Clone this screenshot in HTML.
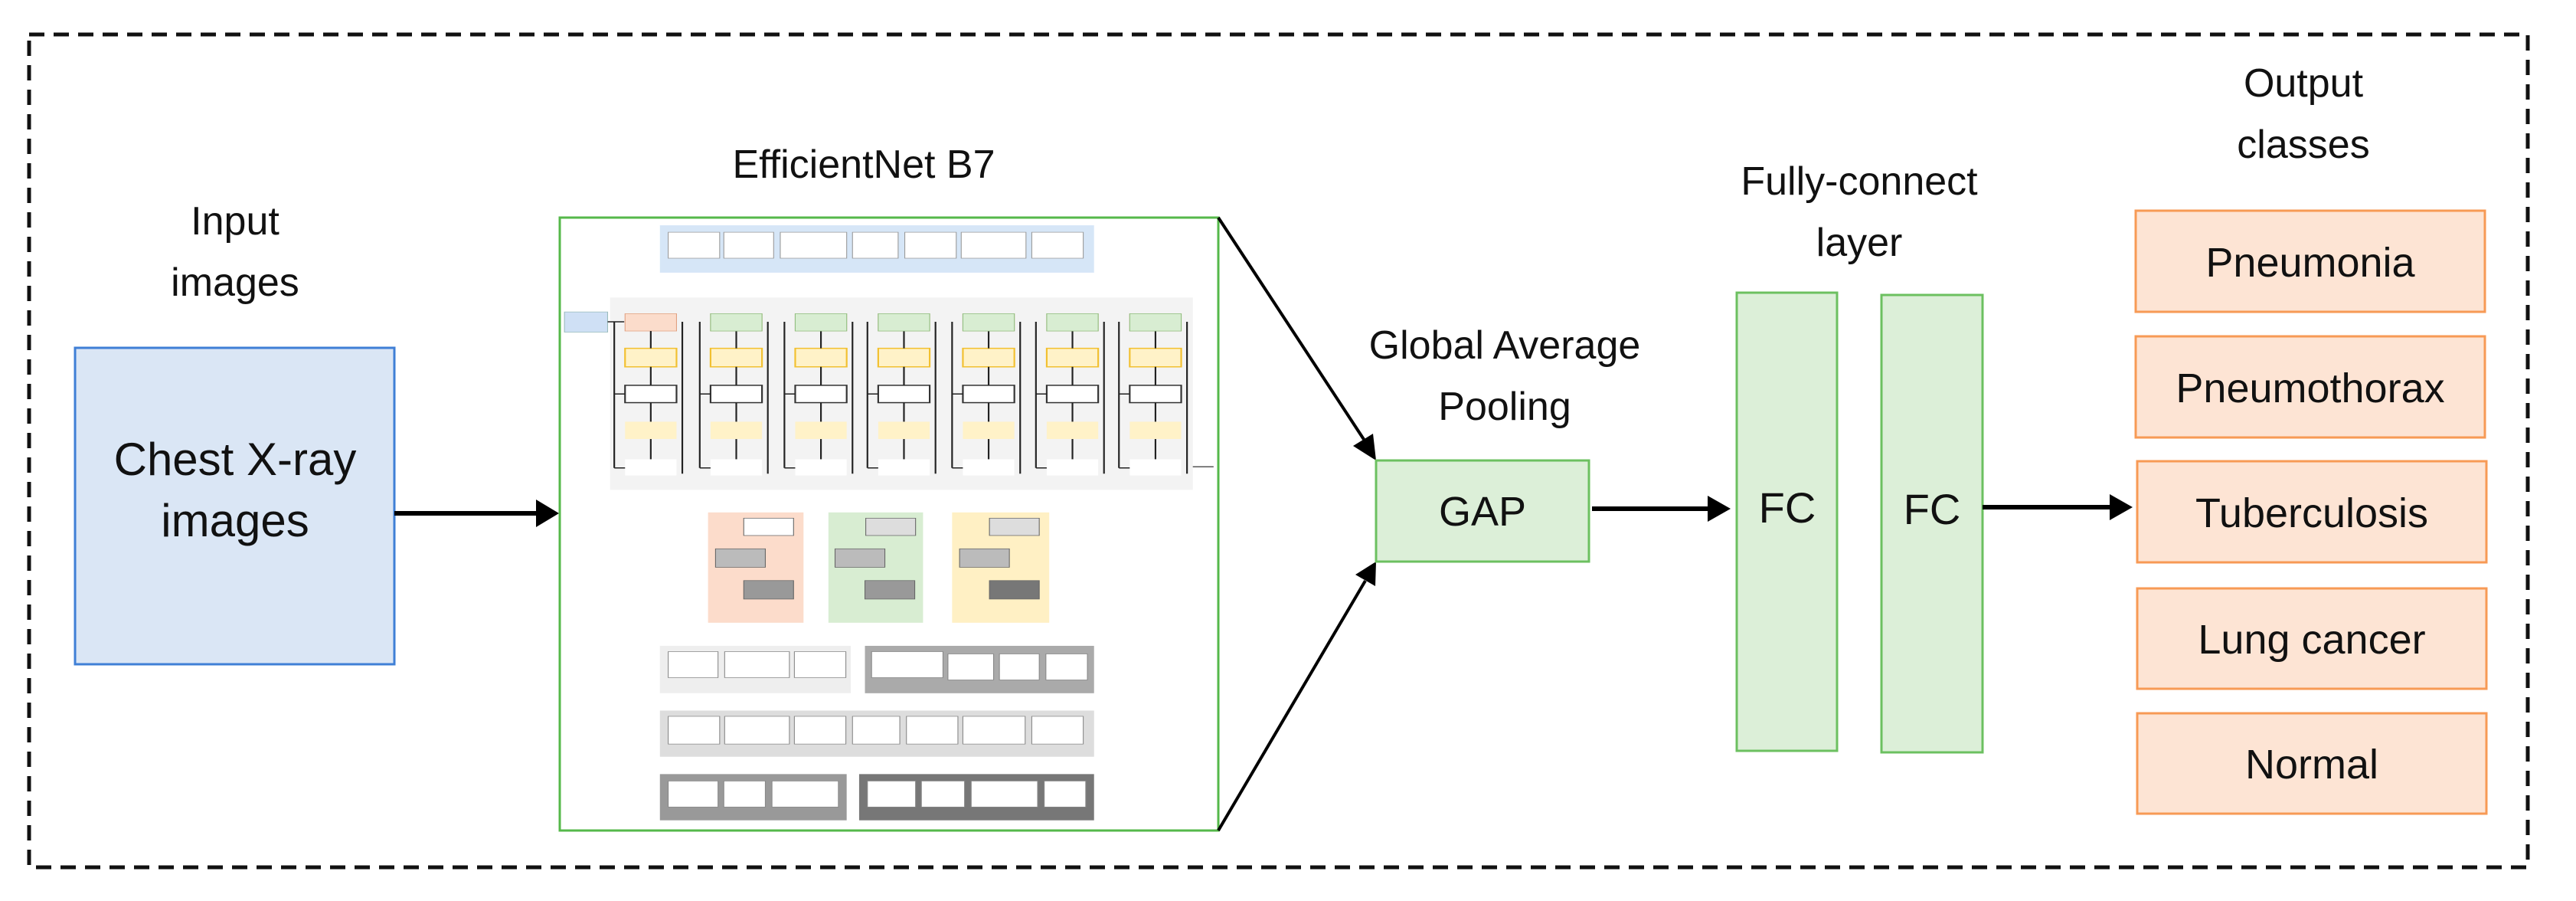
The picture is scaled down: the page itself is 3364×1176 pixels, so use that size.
<!DOCTYPE html>
<html><head><meta charset="utf-8"><style>
html,body{margin:0;padding:0;background:#fff;}
svg{display:block;}
.t{font-family:"Liberation Sans",sans-serif;fill:#111;}
</style></head><body>
<svg width="3364" height="1176" viewBox="0 0 3364 1176" xmlns="http://www.w3.org/2000/svg">
<!-- dashed border -->
<rect x="38" y="45" width="3263" height="1087" fill="none" stroke="#111" stroke-width="5" stroke-dasharray="20,12"/>

<!-- Input -->
<text class="t" x="307" y="306" font-size="52" text-anchor="middle">Input</text>
<text class="t" x="307" y="386" font-size="52" text-anchor="middle">images</text>
<rect x="98" y="454" width="417" height="413" fill="#dae6f5" stroke="#3f7fd6" stroke-width="3"/>
<text class="t" x="307" y="620" font-size="60" text-anchor="middle">Chest X-ray</text>
<text class="t" x="307" y="700" font-size="60" text-anchor="middle">images</text>
<line x1="515" y1="670" x2="705" y2="670" stroke="#000" stroke-width="6"/>
<polygon points="730,670 700,652 700,688" fill="#000"/>

<!-- EfficientNet -->
<text class="t" x="1128" y="232" font-size="52" text-anchor="middle">EfficientNet B7</text>
<rect x="731" y="284" width="860" height="800" fill="#fff" stroke="#55b84a" stroke-width="3"/>
<g transform="scale(1.084 0.754)" font-family="Liberation Sans,sans-serif" font-size="11" fill="#444">
  <rect x="795" y="390" width="523" height="82" fill="#d6e6f7"/>
  <g fill="#fff" stroke="#999" stroke-width="1">
    <rect x="805" y="402" width="62" height="45"/><rect x="872" y="402" width="60" height="45"/>
    <rect x="940" y="402" width="80" height="45"/><rect x="1027" y="402" width="55" height="45"/>
    <rect x="1090" y="402" width="62" height="45"/><rect x="1158" y="402" width="78" height="45"/>
    <rect x="1243" y="402" width="62" height="45"/>
  </g>
  <rect x="680" y="540" width="52" height="35" fill="#cfe0f5" stroke="#9bb" />
  <rect x="735" y="515" width="702" height="333" fill="#f3f3f3"/>
  <line x1="732" y1="557" x2="752" y2="557" stroke="#222" stroke-width="2"/>
  <g id="col">
    <rect x="753" y="543" width="62" height="30" fill="#fbdccb" stroke="#e0a080"/>
    <rect x="753" y="603" width="62" height="32" fill="#fff2c8" stroke="#f2c030" stroke-width="2"/>
    <rect x="753" y="667" width="62" height="30" fill="#fff" stroke="#333" stroke-width="2"/>
    <rect x="753" y="730" width="62" height="30" fill="#fff2c8"/>
    <rect x="753" y="795" width="62" height="28" fill="#fff"/>
    <g stroke="#222" stroke-width="2">
      <line x1="784" y1="573" x2="784" y2="603"/><line x1="784" y1="635" x2="784" y2="667"/>
      <line x1="784" y1="697" x2="784" y2="730"/><line x1="784" y1="760" x2="784" y2="795"/>
      <line x1="740" y1="557" x2="740" y2="810"/><line x1="740" y1="682" x2="753" y2="682"/>
      <line x1="740" y1="810" x2="753" y2="810"/><line x1="822" y1="557" x2="822" y2="820"/>
    </g>
  </g>
  <use href="#col" x="103"/><use href="#col" x="205"/><use href="#col" x="305"/>
  <use href="#col" x="407"/><use href="#col" x="508"/><use href="#col" x="608"/>
  <g fill="#d8edd2" stroke="#90c080">
    <rect x="856" y="543" width="62" height="30"/><rect x="958" y="543" width="62" height="30"/>
    <rect x="1058" y="543" width="62" height="30"/><rect x="1160" y="543" width="62" height="30"/>
    <rect x="1261" y="543" width="62" height="30"/><rect x="1361" y="543" width="62" height="30"/>
  </g>
  <line x1="1437" y1="808" x2="1462" y2="808" stroke="#555" stroke-width="2"/>
  <rect x="853" y="887" width="115" height="191" fill="#fcdccb"/>
  <rect x="998" y="887" width="114" height="191" fill="#d8edd2"/>
  <rect x="1147" y="887" width="117" height="191" fill="#fff0c4"/>
  <g fill="#ddd" stroke="#666">
    <rect x="896" y="897" width="60" height="30" fill="#fff"/><rect x="862" y="950" width="60" height="32" fill="#bbb"/><rect x="896" y="1005" width="60" height="32" fill="#999"/>
    <rect x="1043" y="897" width="60" height="30"/><rect x="1006" y="950" width="60" height="32" fill="#bbb"/><rect x="1042" y="1005" width="60" height="32" fill="#999"/>
    <rect x="1192" y="897" width="60" height="30"/><rect x="1156" y="950" width="60" height="32" fill="#bbb"/><rect x="1192" y="1005" width="60" height="32" fill="#777"/>
  </g>
  <rect x="795" y="1118" width="230" height="82" fill="#eee"/>
  <rect x="1042" y="1118" width="276" height="82" fill="#aaa"/>
  <rect x="795" y="1230" width="523" height="80" fill="#ddd"/>
  <rect x="795" y="1340" width="225" height="80" fill="#999"/>
  <rect x="1035" y="1340" width="283" height="80" fill="#777"/>
  <g fill="#fff" stroke="#888">
    <rect x="805" y="1128" width="60" height="45"/><rect x="873" y="1128" width="78" height="45"/><rect x="957" y="1128" width="62" height="45"/>
    <rect x="1050" y="1128" width="86" height="45"/><rect x="1142" y="1132" width="55" height="45"/><rect x="1204" y="1132" width="48" height="45"/><rect x="1260" y="1132" width="50" height="45"/>
    <rect x="805" y="1240" width="62" height="48"/><rect x="873" y="1240" width="78" height="48"/><rect x="957" y="1240" width="62" height="48"/><rect x="1027" y="1240" width="57" height="48"/><rect x="1092" y="1240" width="62" height="48"/><rect x="1160" y="1240" width="75" height="48"/><rect x="1243" y="1240" width="62" height="48"/>
    <rect x="805" y="1352" width="60" height="45"/><rect x="872" y="1352" width="50" height="45"/><rect x="930" y="1352" width="80" height="45"/>
    <rect x="1045" y="1352" width="58" height="45"/><rect x="1110" y="1352" width="52" height="45"/><rect x="1170" y="1352" width="80" height="45"/><rect x="1258" y="1352" width="50" height="45"/>
  </g>
</g>
<line x1="1591" y1="284" x2="1782" y2="575" stroke="#000" stroke-width="4"/>
<polygon points="1797,601 1767,582 1793,566" fill="#000"/>
<line x1="1591" y1="1084" x2="1783" y2="758" stroke="#000" stroke-width="4"/>
<polygon points="1797,733 1770,750 1796,765" fill="#000"/>

<!-- GAP -->
<text class="t" x="1965" y="468" font-size="52" text-anchor="middle">Global Average</text>
<text class="t" x="1965" y="548" font-size="52" text-anchor="middle">Pooling</text>
<rect x="1797" y="601" width="278" height="132" fill="#dcefd8" stroke="#6cc060" stroke-width="3"/>
<text class="t" x="1936" y="686" font-size="54" text-anchor="middle">GAP</text>
<line x1="2079" y1="664" x2="2235" y2="664" stroke="#000" stroke-width="6"/>
<polygon points="2260,664 2230,647 2230,681" fill="#000"/>

<!-- FC -->
<text class="t" x="2428" y="254" font-size="52" text-anchor="middle">Fully-connect</text>
<text class="t" x="2428" y="334" font-size="52" text-anchor="middle">layer</text>
<rect x="2268" y="382" width="131" height="598" fill="#dcefd8" stroke="#6cc060" stroke-width="3"/>
<rect x="2457" y="385" width="132" height="597" fill="#dcefd8" stroke="#6cc060" stroke-width="3"/>
<text class="t" x="2334" y="682" font-size="56" text-anchor="middle">FC</text>
<text class="t" x="2523" y="684" font-size="56" text-anchor="middle">FC</text>
<line x1="2589" y1="662" x2="2760" y2="662" stroke="#000" stroke-width="6"/>
<polygon points="2785,662 2755,645 2755,679" fill="#000"/>

<!-- Outputs -->
<text class="t" x="3008" y="126" font-size="52" text-anchor="middle">Output</text>
<text class="t" x="3008" y="206" font-size="52" text-anchor="middle">classes</text>
<g fill="#fde4d4" stroke="#f79a55" stroke-width="3">
<rect x="2789" y="275" width="456" height="132"/>
<rect x="2789" y="439" width="456" height="132"/>
<rect x="2791" y="602" width="456" height="132"/>
<rect x="2791" y="768" width="456" height="131"/>
<rect x="2791" y="931" width="456" height="131"/>
</g>
<g font-size="54" text-anchor="middle">
<text class="t" x="3017" y="361">Pneumonia</text>
<text class="t" x="3017" y="525">Pneumothorax</text>
<text class="t" x="3019" y="688">Tuberculosis</text>
<text class="t" x="3019" y="853">Lung cancer</text>
<text class="t" x="3019" y="1016">Normal</text>
</g>
</svg>
</body></html>
